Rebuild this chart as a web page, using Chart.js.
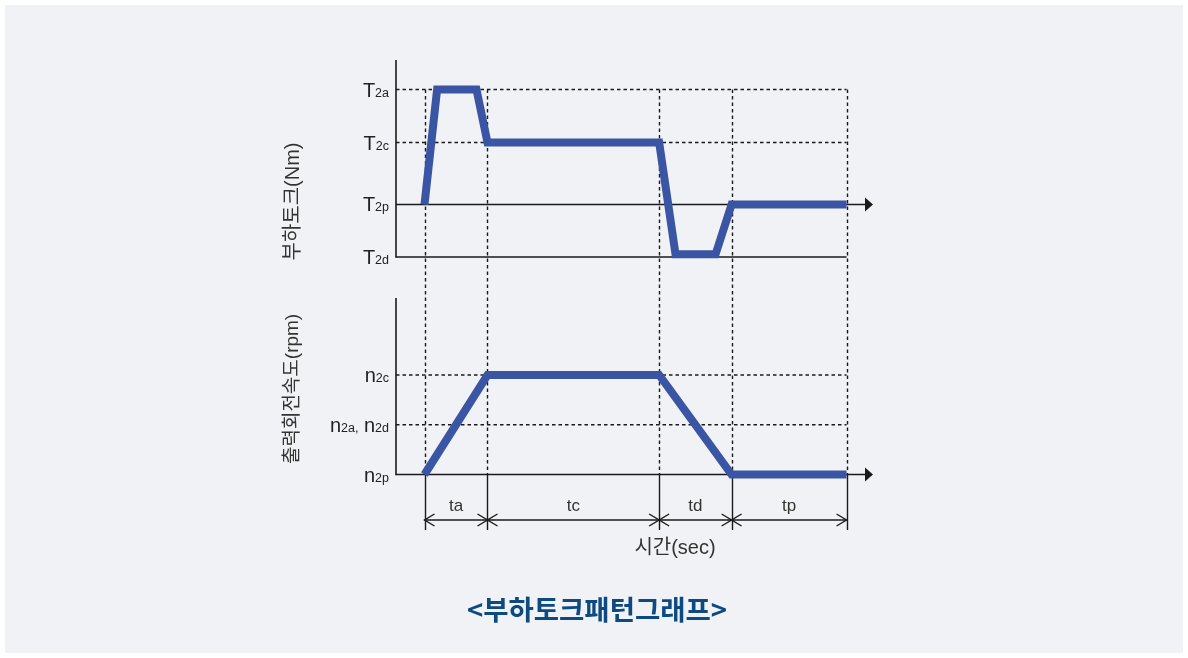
<!DOCTYPE html>
<html lang="ko">
<head>
<meta charset="utf-8">
<title>부하토크패턴그래프</title>
<script src="https://cdn.jsdelivr.net/npm/chart.js@4/dist/chart.umd.min.js"></script>
<style>
  html, body { margin: 0; padding: 0; background: #ffffff; }
  canvas { display: block; }
</style>
</head>
<body>
<canvas id="patternChart" width="1188" height="658"></canvas>
<script>
// 시간 구간 경계와 이름
const phaseTimes = [0, 2, 7.45, 9.75, 13.4];
const phaseLabels = ["ta", "tc", "td", "tp"];

// 부하토크 레벨 (T2a, T2c, T2p, T2d)
const torqueLevels = [2.19, 1.18, 0, -1];
const torqueNames = [[["T", "2a"]], [["T", "2c"]], [["T", "2p"]], [["T", "2d"]]];
const torqueDashed = [true, true, false, false];

// 부하토크 패턴
const torqueTime = [0, 0.4, 1.65, 2, 7.45, 7.97, 9.24, 9.75, 13.4];
const torqueValue = [0, 2.19, 2.19, 1.18, 1.18, -0.95, -0.95, 0, 0];

// 출력회전속도 레벨 (n2c, n2a/n2d, n2p)
const speedLevels = [2, 1, 0];
const speedNames = [[["n", "2c"]], [["n", "2a,"], [" n", "2d"]], [["n", "2p"]]];
const speedDashed = [true, true, false];

// 출력회전속도 패턴
const speedTime = [0, 2, 7.45, 9.75, 13.4];
const speedValue = [0, 2, 2, 0, 0];

const axisTitles = ["부하토크(Nm)", "출력회전속도(rpm)"];
const timeTitle = "시간(sec)";
const chartTitle = "<부하토크패턴그래프>";

const lineColor = "#3b55a5";
const inkColor = "#1a1a1a";
const latinFont = '"Liberation Sans", "Noto Sans CJK KR", sans-serif';

function toPoints(xs, ys) {
  return xs.map((x, i) => ({ x: x, y: ys[i] }));
}

// 아래첨자 붙은 라벨 그리기 (오른쪽 정렬)
function drawSubLabel(ctx, parts, right, y) {
  let big = "20px " + latinFont;
  let small = "12.5px " + latinFont;
  let width = 0;
  parts.forEach((p) => {
    ctx.font = big;
    width += ctx.measureText(p[0]).width;
    ctx.font = small;
    width += ctx.measureText(p[1]).width;
  });
  let x = right - width;
  ctx.textAlign = "left";
  ctx.textBaseline = "alphabetic";
  ctx.fillStyle = "#222222";
  parts.forEach((p) => {
    ctx.font = big;
    ctx.fillText(p[0], x, y + 7);
    x += ctx.measureText(p[0]).width;
    ctx.font = small;
    ctx.fillText(p[1], x, y + 7);
    x += ctx.measureText(p[1]).width;
  });
}

function hLine(ctx, x1, x2, y, dashed) {
  ctx.save();
  ctx.setLineDash(dashed ? [3.5, 3] : []);
  ctx.lineWidth = dashed ? 1.4 : 1.5;
  ctx.beginPath();
  ctx.moveTo(x1, y);
  ctx.lineTo(x2, y);
  ctx.stroke();
  ctx.restore();
}

function arrowHead(ctx, tip, y) {
  ctx.beginPath();
  ctx.moveTo(tip, y);
  ctx.lineTo(tip - 8, y - 7);
  ctx.lineTo(tip - 8, y + 7);
  ctx.closePath();
  ctx.fill();
}

function chevron(ctx, x, y, dir) {
  ctx.beginPath();
  ctx.moveTo(x + dir * 10, y - 6);
  ctx.lineTo(x, y);
  ctx.lineTo(x + dir * 10, y + 6);
  ctx.stroke();
}

const diagramPlugin = {
  id: "diagram",
  beforeDraw(chart) {
    let ctx = chart.ctx;
    ctx.save();
    ctx.fillStyle = "#f0f2f5";
    ctx.fillRect(5, 5, 1178, 648);
    ctx.restore();
  },
  beforeDatasetsDraw(chart) {
    let ctx = chart.ctx;
    let xs = chart.scales.x;
    let yT = chart.scales.yT;
    let yN = chart.scales.yN;
    let area = chart.chartArea;
    let axisX = area.left;
    let endX = xs.getPixelForValue(phaseTimes[phaseTimes.length - 1]);
    let tipX = area.right;

    ctx.save();
    ctx.strokeStyle = inkColor;
    ctx.fillStyle = inkColor;

    // 세로 점선
    let vTop = yT.getPixelForValue(torqueLevels[0]);
    let vBottom = yN.getPixelForValue(0);
    phaseTimes.forEach((t) => {
      let px = Math.round(xs.getPixelForValue(t)) + 0.5;
      ctx.save();
      ctx.setLineDash([3.5, 3]);
      ctx.lineWidth = 1.4;
      ctx.beginPath();
      ctx.moveTo(px, vTop);
      ctx.lineTo(px, vBottom);
      ctx.stroke();
      ctx.restore();
    });

    // 부하토크 축
    torqueLevels.forEach((v, i) => {
      let py = yT.getPixelForValue(v);
      hLine(ctx, axisX, v === 0 ? tipX - 6 : endX, py, torqueDashed[i]);
      ctx.fillStyle = inkColor;
      if (v === 0) arrowHead(ctx, tipX, py);
      drawSubLabel(ctx, torqueNames[i], axisX - 7, py);
    });
    ctx.lineWidth = 1.6;
    ctx.beginPath();
    ctx.moveTo(axisX, area.top);
    ctx.lineTo(axisX, yT.getPixelForValue(-1) + 0.75);
    ctx.stroke();

    // 출력회전속도 축
    speedLevels.forEach((v, i) => {
      let py = yN.getPixelForValue(v);
      hLine(ctx, axisX, v === 0 ? tipX - 6 : endX, py, speedDashed[i]);
      ctx.fillStyle = inkColor;
      if (v === 0) arrowHead(ctx, tipX, py);
      drawSubLabel(ctx, speedNames[i], axisX - 7, py);
    });
    ctx.lineWidth = 1.6;
    ctx.beginPath();
    ctx.moveTo(axisX, yN.getPixelForValue(3.55));
    ctx.lineTo(axisX, yN.getPixelForValue(0) + 0.75);
    ctx.stroke();

    // 구간 치수선
    let dimY = area.bottom - 10;
    ctx.lineWidth = 1.4;
    phaseTimes.forEach((t) => {
      let px = Math.round(xs.getPixelForValue(t)) + 0.5;
      ctx.beginPath();
      ctx.moveTo(px, vBottom);
      ctx.lineTo(px, area.bottom);
      ctx.stroke();
    });
    ctx.beginPath();
    ctx.moveTo(xs.getPixelForValue(phaseTimes[0]), dimY);
    ctx.lineTo(endX, dimY);
    ctx.stroke();
    ctx.font = "17px " + latinFont;
    ctx.textAlign = "center";
    ctx.textBaseline = "middle";
    ctx.fillStyle = "#333333";
    phaseLabels.forEach((lab, i) => {
      let a = xs.getPixelForValue(phaseTimes[i]);
      let b = xs.getPixelForValue(phaseTimes[i + 1]);
      chevron(ctx, a, dimY, 1);
      chevron(ctx, b, dimY, -1);
      ctx.fillText(lab, (a + b) / 2, dimY - 14);
    });

    // 축 제목
    ctx.font = "20px " + latinFont;
    ctx.fillText(timeTitle, 675, 548);
    let titleY = [yT.getPixelForValue(0) - 3, yN.getPixelForValue(1.72)];
    let titleSize = [20, 19];
    axisTitles.forEach((title, i) => {
      ctx.save();
      ctx.font = titleSize[i] + "px " + latinFont;
      ctx.translate(293, titleY[i]);
      ctx.rotate(-Math.PI / 2);
      ctx.fillText(title, 0, 0);
      ctx.restore();
    });

    // 그래프 제목
    ctx.font = 'bold 27.5px "Noto Sans CJK KR", sans-serif';
    ctx.fillStyle = "#0d4a80";
    ctx.fillText(chartTitle, 597, 610);
    ctx.restore();
  },
};

let chartData = {
  datasets: [
    {
      label: "부하토크",
      data: toPoints(torqueTime, torqueValue),
      yAxisID: "yT",
      borderColor: lineColor,
      borderWidth: 8,
      borderJoinStyle: "miter",
      pointRadius: 0,
      fill: false,
    },
    {
      label: "출력회전속도",
      data: toPoints(speedTime, speedValue),
      yAxisID: "yN",
      borderColor: lineColor,
      borderWidth: 8,
      borderJoinStyle: "miter",
      pointRadius: 0,
      fill: false,
    },
  ],
};

let options = {
  responsive: false,
  animation: false,
  layout: { padding: { left: 396, right: 315, top: 60, bottom: 128 } },
  plugins: { legend: { display: false }, tooltip: { enabled: false } },
  scales: {
    x: { type: "linear", min: -0.905, max: 14.24, display: false },
    yT: { type: "linear", min: -6.2, max: 2.752, display: false },
    yN: { type: "linear", min: -1.1156, max: 8.332, display: false },
  },
};

var ctx = document.getElementById("patternChart").getContext("2d");
var myChart = new Chart(ctx, {
  type: "line",
  data: chartData,
  options: options,
  plugins: [diagramPlugin],
});
</script>
</body>
</html>
